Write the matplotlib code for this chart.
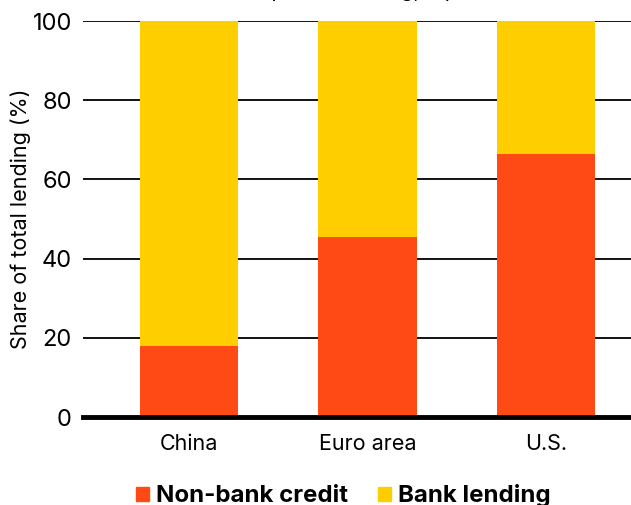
import matplotlib
matplotlib.use('Agg')
import matplotlib.pyplot as plt
from matplotlib.patches import Patch

# shares of total lending (%)
regions = ['China', 'Euro area', 'U.S.']
non_bank = [18, 45.5, 66.5]
bank = [100 - v for v in non_bank]

plt.rcParams['font.family'] = ['Inter', 'DejaVu Sans']

fig = plt.figure(figsize=(6.31, 5.05), dpi=100)
ax = fig.add_axes([83/631, 1 - 417/505, 548/631, 396/505])

x = list(range(len(regions)))
ax.bar(x, non_bank, width=0.55, color='#FF4A16', zorder=3)
ax.bar(x, bank, bottom=non_bank, width=0.55, color='#FFCE00', zorder=3)

ax.set_xlim(-0.594, 2.476)
ax.set_ylim(0, 100)
ax.set_yticks([0, 20, 40, 60, 80, 100])
ax.set_xticks(x)
ax.set_xticklabels(regions, fontsize=15.5)
ax.tick_params(axis='y', labelsize=17, length=0, pad=8)
ax.tick_params(axis='x', length=0, pad=12)
ax.yaxis.grid(True, color='black', linewidth=1.3, zorder=1)
ax.axhline(0, color='black', linewidth=3.5, zorder=4, clip_on=False)
for s in ax.spines.values():
    s.set_visible(False)
ax.set_ylabel('Share of total lending (%)', fontsize=15.5, labelpad=1)

fig.text(0.64, 1.018, 'Corporate lending, top economies', ha='center', va='center', fontsize=15)

handles = [Patch(color='#FF4A16'), Patch(color='#FFCE00')]
fig.legend(handles, ['Non-bank credit', 'Bank lending'], loc='center',
           bbox_to_anchor=(0.544, 0.018), ncol=2, frameon=False,
           prop={'weight': 'bold', 'size': 17.3}, handlelength=0.55,
           handleheight=0.55, handletextpad=0.3, columnspacing=1.25)

fig.savefig('out.png', dpi=100)
